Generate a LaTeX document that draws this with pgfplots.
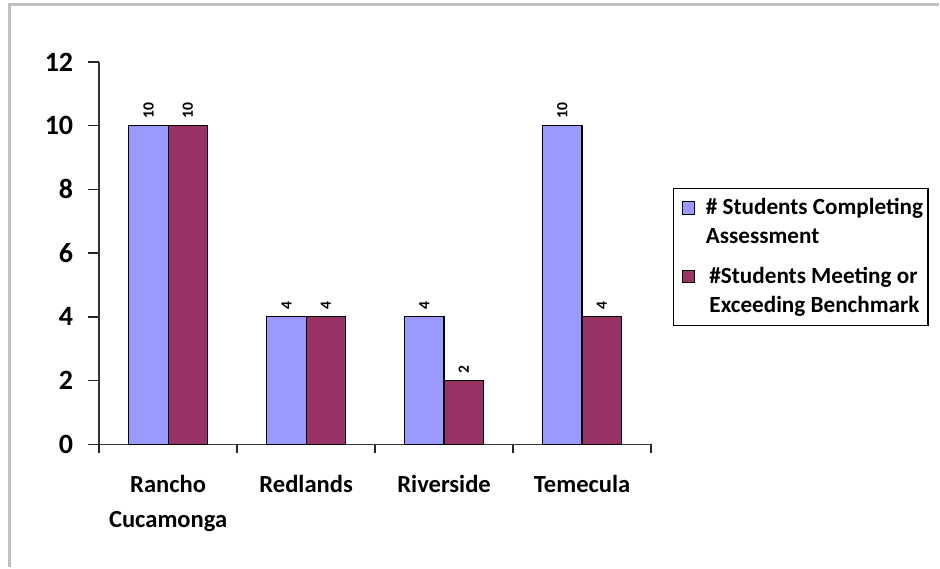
\documentclass[border=0pt]{standalone}
\usepackage{fontspec}
\setmainfont{Carlito}
\usepackage{pgfplots}
\pgfplotsset{compat=1.18}
\definecolor{barblue}{HTML}{9999FF}
\definecolor{barred}{HTML}{993366}
\definecolor{framegray}{HTML}{C0C0C0}
\begin{document}
\begin{tikzpicture}[x=1pt,y=1pt]
\fill[white] (0,0) rectangle (470,284);
\draw[framegray, line width=1.5pt] (5,0) -- (5,281.5) -- (470,281.5);
\begin{axis}[
  at={(49.65pt,61.5pt)}, anchor=south west,
  scale only axis, width=276.4pt, height=191.5pt,
  xmin=-0.5, xmax=3.5, ymin=0, ymax=12,
  axis x line*=bottom, axis y line*=left,
  axis line style={black!80, line width=0.8pt},
  ybar=0pt, bar width=0.285,
  xtick={0,1,2,3},
  xticklabels={Rancho\\Cucamonga, Redlands, Riverside, Temecula},
  major x tick style={draw=none},
  minor xtick={-0.5,0.5,1.5,2.5,3.5},
  minor x tick style={black!85, line width=0.8pt},
  minor tick length=4.5pt,
  ytick={0,2,...,12},
  y tick style={black!85, line width=0.8pt},
  major tick length=5.5pt,
  tick align=outside,
  x tick label style={align=center, font=\bfseries\fontsize{12.3}{17.5}\selectfont, yshift=-6.5pt},
  y tick label style={font=\bfseries\fontsize{14}{15}\selectfont, xshift=-4pt},
  /pgf/number format/assume math mode=true,
  nodes near coords,
  every node near coord/.append style={rotate=90, anchor=west, font=\bfseries\fontsize{7.8}{8}\selectfont},
  legend style={draw=black, line width=0.6pt, at={(1.04,0.67)}, anchor=north west,
    font=\bfseries\fontsize{11.6}{14.5}\selectfont, cells={align=left}, inner xsep=0.5pt, inner ysep=3pt, row sep=6pt},
  legend image code/.code={\path (-3.5pt,7pt);
    \draw[#1, draw=black, line width=0.5pt] (0pt,4.2pt) rectangle (6.3pt,10.5pt);
    \path (9.5pt,7pt);},
]
\addplot[fill=barblue, draw=black, line width=0.6pt] coordinates {(0,10) (1,4) (2,4) (3,10)};
\addlegendentry{\# Students Completing\\Assessment}
\addplot[fill=barred, draw=black, line width=0.6pt] coordinates {(0,10) (1,4) (2,2) (3,4)};
\addlegendentry{\#Students Meeting or\\Exceeding Benchmark}
\end{axis}
\end{tikzpicture}
\end{document}
